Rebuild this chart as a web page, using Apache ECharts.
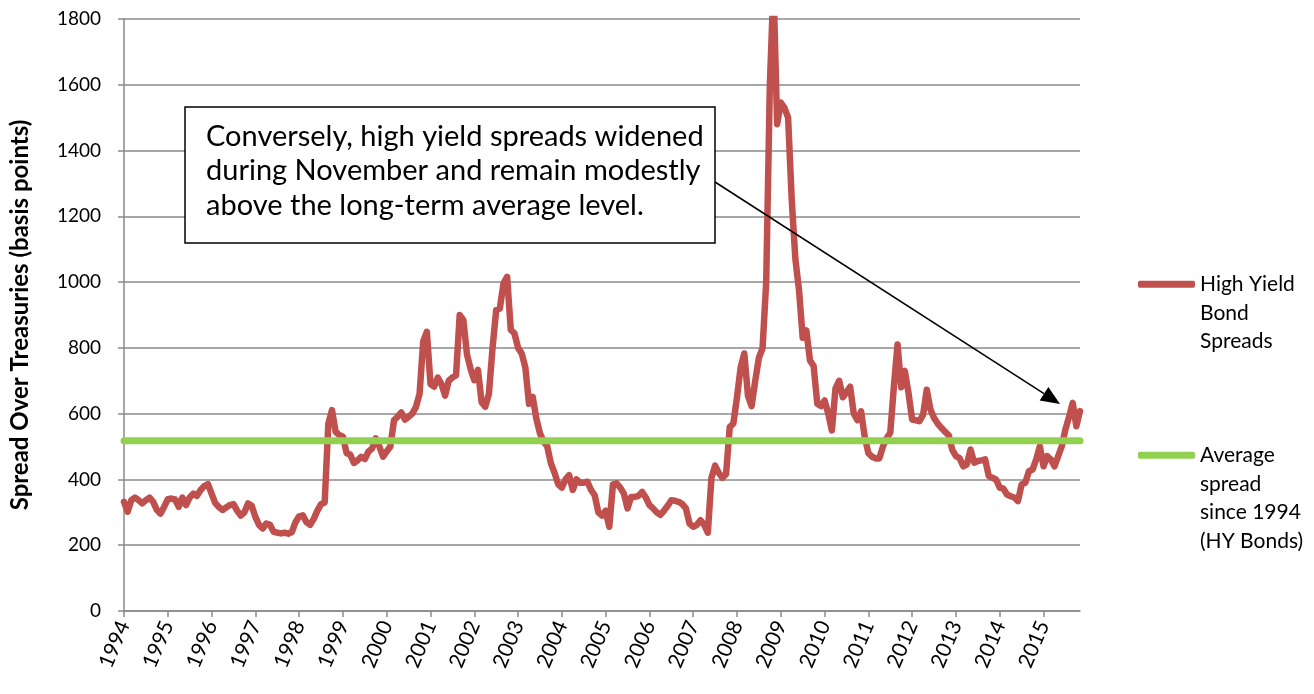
<!DOCTYPE html>
<html>
<head>
<meta charset="utf-8">
<title>High Yield Bond Spreads</title>
<script src="https://cdn.jsdelivr.net/npm/echarts@6/dist/echarts.min.js"></script>
<style>
  html, body { margin: 0; padding: 0; background: #fff; }
  #chart { width: 1314px; height: 694px; }
</style>
</head>
<body>
<div id="chart"></div>
<script>
// years shown on the x axis, one category per month (Jan 1994 - Nov 2015)
const years = [1994, 1995, 1996, 1997, 1998, 1999, 2000, 2001, 2002, 2003, 2004,
  2005, 2006, 2007, 2008, 2009, 2010, 2011, 2012, 2013, 2014, 2015]
const months = ['01', '02', '03', '04', '05', '06', '07', '08', '09', '10', '11', '12']
const lastMonth = '2015-11'

// high yield spread over treasuries, basis points, monthly
const hySpread = [
  332, 302, 337, 345, 337, 327, 337, 345, 332, 307, 296, 317, // 1994
  340, 342, 339, 317, 345, 322, 345, 357, 350, 368, 380, 386, // 1995
  357, 328, 316, 307, 315, 322, 325, 305, 290, 300, 327, 320, // 1996
  286, 262, 251, 266, 262, 241, 238, 236, 238, 235, 240, 270, // 1997
  288, 291, 270, 262, 280, 305, 325, 330, 570, 611, 545, 535, // 1998
  530, 480, 476, 450, 458, 469, 462, 485, 494, 525, 500, 469, // 1999
  485, 500, 580, 591, 604, 582, 590, 600, 620, 660, 820, 849, // 2000
  690, 682, 710, 690, 655, 700, 710, 717, 900, 885, 780, 735, // 2001
  702, 733, 635, 621, 660, 800, 915, 920, 996, 1016, 855, 844, // 2002
  800, 783, 740, 630, 651, 585, 540, 515, 500, 449, 420, 385, // 2003
  375, 400, 413, 368, 400, 390, 390, 393, 368, 352, 300, 290, // 2004
  305, 256, 385, 388, 375, 357, 312, 347, 347, 350, 362, 345, // 2005
  322, 312, 300, 292, 305, 320, 337, 335, 332, 325, 312, 265, // 2006
  256, 262, 276, 262, 238, 405, 442, 420, 405, 416, 559, 570, // 2007
  650, 741, 783, 655, 623, 700, 770, 799, 1000, 1600, 1900, 1480, // 2008
  1546, 1530, 1500, 1250, 1070, 975, 831, 853, 762, 745, 630, 623, // 2009
  640, 600, 549, 677, 700, 650, 665, 682, 600, 580, 607, 530, // 2010
  480, 469, 464, 464, 500, 525, 542, 684, 810, 680, 730, 663, // 2011
  582, 580, 577, 597, 673, 613, 587, 570, 557, 545, 535, 490, // 2012
  471, 465, 440, 446, 491, 451, 456, 458, 461, 410, 405, 400, // 2013
  375, 372, 354, 349, 345, 334, 385, 390, 425, 430, 461, 501, // 2014
  440, 471, 461, 440, 470, 501, 552, 590, 633, 562, 608 // 2015 (Jan-Nov)
]

// long-term average level since 1994
const avgSpread = 518

const yTicks = { min: 0, max: 1800, interval: 200 }

const seriesNames = ['High Yield\nBond\nSpreads', 'Average\nspread\nsince 1994\n(HY Bonds)']

const noteLines = [
  'Conversely, high yield spreads widened',
  'during November and remain modestly',
  'above the long-term average level.'
]

const monthCats = []
years.forEach(y => months.forEach(m => {
  const c = y + '-' + m
  if (c <= lastMonth) monthCats.push(c)
}))

const chart = echarts.init(document.getElementById('chart'))
const font = 'Lato, "Open Sans", sans-serif'
const gridColor = '#8a8a8a'

// arrow from the note box to the last readings
const arrowFrom = [715, 182]
const arrowTip = [1060, 404]
const dx = arrowTip[0] - arrowFrom[0]
const dy = arrowTip[1] - arrowFrom[1]
const len = Math.sqrt(dx * dx + dy * dy)
const ux = dx / len, uy = dy / len
const headLen = 19, headHalf = 8
const base = [arrowTip[0] - headLen * ux, arrowTip[1] - headLen * uy]

const option = {
  animation: false,
  textStyle: { fontFamily: font },
  grid: { left: 122, right: 234, top: 19, bottom: 83 },
  legend: {
    data: seriesNames,
    orient: 'vertical',
    left: 1138,
    top: 283 - 70,
    padding: 0,
    itemWidth: 57,
    itemHeight: 7,
    itemGap: 0,
    icon: 'roundRect',
    // blank lines on top so the first text line sits level with the icon
    formatter: (name) => '\n'.repeat(name.split('\n').length - 1) + name,
    textStyle: { fontFamily: font, fontSize: 21, color: '#000', lineHeight: 28.5 }
  },
  xAxis: {
    type: 'category',
    data: monthCats,
    boundaryGap: false,
    axisLine: { lineStyle: { color: gridColor, width: 1.5 } },
    axisTick: {
      show: true,
      length: 6,
      interval: (i) => i % 12 === 0,
      lineStyle: { color: gridColor, width: 1.5 }
    },
    axisLabel: {
      interval: (i) => i % 12 === 0,
      formatter: (v) => v.slice(0, 4),
      rotate: 67,
      margin: 11,
      fontSize: 21,
      fontFamily: font,
      color: '#000'
    },
    splitLine: { show: false }
  },
  yAxis: {
    type: 'value',
    min: yTicks.min,
    max: yTicks.max,
    interval: yTicks.interval,
    name: 'Spread Over Treasuries (basis points)',
    nameLocation: 'middle',
    nameRotate: 90,
    nameGap: 92,
    nameTextStyle: { fontSize: 24, fontWeight: 'bold', color: '#000', fontFamily: font },
    axisLine: { show: true, lineStyle: { color: gridColor, width: 1.5 } },
    axisTick: { show: true, length: 6, lineStyle: { color: gridColor, width: 1.5 } },
    axisLabel: {
      fontSize: 19,
      color: '#000',
      fontFamily: font,
      margin: 23,
      formatter: (v) => String(v)
    },
    splitLine: { lineStyle: { color: gridColor, width: 1.5 } }
  },
  series: [
    {
      name: seriesNames[0],
      type: 'line',
      data: hySpread,
      symbol: 'none',
      clip: true,
      lineStyle: { color: '#C0504D', width: 6.5, join: 'round', cap: 'round' },
      itemStyle: { color: '#C0504D' },
      z: 2
    },
    {
      name: seriesNames[1],
      type: 'line',
      data: [[monthCats[0], avgSpread], [lastMonth, avgSpread]],
      symbol: 'none',
      lineStyle: { color: '#92D050', width: 7, cap: 'round' },
      itemStyle: { color: '#92D050' },
      z: 3
    }
  ],
  graphic: [
    {
      type: 'rect',
      z: 100,
      shape: { x: 185, y: 107, width: 530, height: 136 },
      style: { fill: '#fff', stroke: '#000', lineWidth: 1.5 }
    },
    {
      type: 'text',
      z: 101,
      x: 206,
      y: 119,
      style: {
        text: noteLines.join('\n'),
        font: '29px ' + font,
        lineHeight: 34.5,
        fill: '#000'
      }
    },
    {
      type: 'line',
      z: 100,
      shape: { x1: arrowFrom[0], y1: arrowFrom[1], x2: base[0], y2: base[1] },
      style: { stroke: '#000', lineWidth: 1.5 }
    },
    {
      type: 'polygon',
      z: 100,
      shape: {
        points: [
          arrowTip,
          [base[0] - headHalf * uy, base[1] + headHalf * ux],
          [base[0] + headHalf * uy, base[1] - headHalf * ux]
        ]
      },
      style: { fill: '#000' }
    }
  ]
}

chart.setOption(option)
</script>
</body>
</html>
